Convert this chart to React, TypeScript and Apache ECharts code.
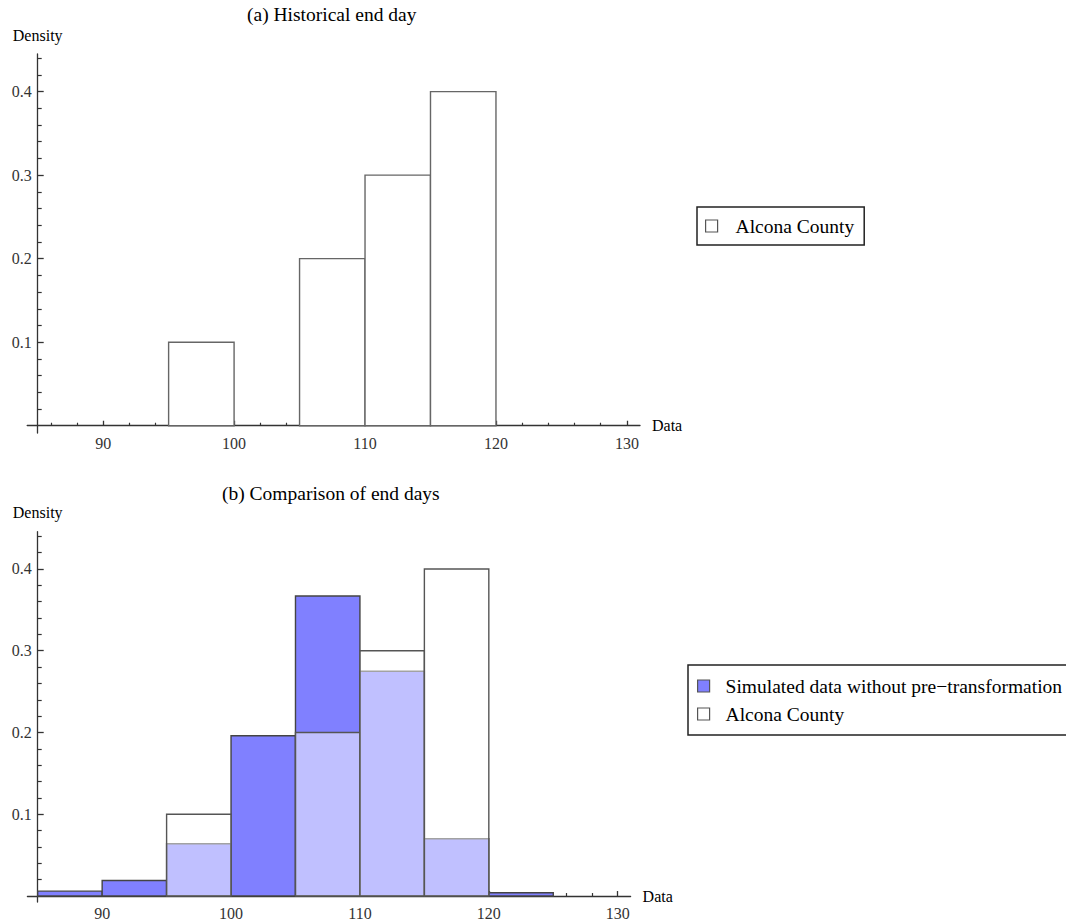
import React, { useEffect, useRef } from "react";
import * as echarts from "echarts";

// ---------- data ----------
const binWidth = 5;
const alconaBinStarts = [95, 105, 110, 115];
const alconaDensity = [0.1, 0.2, 0.3, 0.4];
const simBinStarts = [85, 90, 95, 100, 105, 110, 115, 120];
const simDensity = [0.006, 0.019, 0.064, 0.196, 0.367, 0.275, 0.07, 0.004];

const xMajorTicks = [90, 100, 110, 120, 130];
const xMinorTicks = [86, 88, 92, 94, 96, 98, 102, 104, 106, 108, 112, 114, 116, 118, 122, 124, 126, 128];
const yMajorTicks = [0.1, 0.2, 0.3, 0.4];
const yMinorTicks = [0.02, 0.04, 0.06, 0.08, 0.12, 0.14, 0.16, 0.18, 0.22, 0.24, 0.26, 0.28, 0.32, 0.34, 0.36, 0.38, 0.42, 0.44];

const titleA = "(a) Historical end day";
const titleB = "(b) Comparison of end days";
const nameAlcona = "Alcona County";
const nameSim = "Simulated data without pre\u2212transformation";

const FONT = '"Liberation Serif", "Times New Roman", serif';
const AXIS_COLOR = "#333";
const SIM_FILL = "#8080ff";
const BAR_STROKE = "#555";

function toRows(starts: number[], vals: number[]) {
  return starts.map((s, i) => [s, s + binWidth, vals[i]]);
}

function histSeries(name: string, grid: number, rows: number[][], fill: string, opacity: number, stroke: string) {
  return {
    type: "custom",
    name,
    xAxisIndex: grid * 2,
    yAxisIndex: grid * 2,
    data: rows,
    encode: { x: [0, 1], y: 2 },
    z: 2,
    renderItem: (params: any, api: any) => {
      const x0 = api.value(0);
      const x1 = api.value(1);
      const y = api.value(2);
      const p0 = api.coord([x0, y]);
      const p1 = api.coord([x1, 0]);
      return {
        type: "rect",
        shape: { x: p0[0], y: p0[1], width: p1[0] - p0[0], height: p1[1] - p0[1] },
        style: { fill: fill, opacity: 1, fillOpacity: opacity, stroke: stroke, lineWidth: 1.4 },
      };
    },
  };
}

function xAxes(grid: number, min: number, max: number, labelMargin: number) {
  const common = {
    type: "value",
    gridIndex: grid,
    min,
    max,
    position: "bottom",
    splitLine: { show: false },
  };
  return [
    {
      ...common,
      axisLine: { show: true, onZero: true, lineStyle: { color: AXIS_COLOR, width: 1.3 } },
      axisTick: { show: true, inside: true, length: 5, customValues: xMajorTicks, lineStyle: { color: AXIS_COLOR, width: 1.3 } },
      axisLabel: { show: true, customValues: xMajorTicks, margin: labelMargin, fontSize: 16, fontFamily: FONT, color: "#333" },
      name: "Data",
      nameLocation: "end",
      nameGap: 12,
      nameTextStyle: { fontSize: 16, fontFamily: FONT, color: "#000" },
    },
    {
      ...common,
      axisLine: { show: true, onZero: true, lineStyle: { color: AXIS_COLOR, opacity: 0 } },
      axisTick: { show: true, inside: true, length: 3, customValues: xMinorTicks, lineStyle: { color: AXIS_COLOR, width: 1.2 } },
      axisLabel: { show: false },
    },
  ];
}

function yAxes(grid: number, min: number, max: number, offset: number) {
  const common = {
    type: "value",
    gridIndex: grid,
    min,
    max,
    position: "left",
    offset,
    splitLine: { show: false },
  };
  return [
    {
      ...common,
      axisLine: { show: true, onZero: false, lineStyle: { color: AXIS_COLOR, width: 1.3 } },
      axisTick: { show: true, inside: true, length: 6, customValues: yMajorTicks, lineStyle: { color: AXIS_COLOR, width: 1.3 } },
      axisLabel: {
        show: true,
        customValues: yMajorTicks,
        margin: 6,
        fontSize: 16,
        fontFamily: FONT,
        color: "#333",
        formatter: (v: number) => v.toFixed(1),
      },
      name: "Density",
      nameLocation: "end",
      nameGap: 11,
      nameTextStyle: { fontSize: 16, fontFamily: FONT, color: "#000" },
    },
    {
      ...common,
      axisLine: { show: true, onZero: false, lineStyle: { color: AXIS_COLOR, opacity: 0 } },
      axisTick: { show: true, inside: true, length: 4, customValues: yMinorTicks, lineStyle: { color: AXIS_COLOR, width: 1.2 } },
      axisLabel: { show: false },
    },
  ];
}

export default function App() {
  const ref = useRef<HTMLDivElement>(null);
  useEffect(() => {
    if (!ref.current) return;
    const chart = echarts.init(ref.current, undefined, { renderer: "svg" });
    const legendText = { fontSize: 19.5, fontFamily: FONT, color: "#000" };
    const titleStyle = { fontSize: 19.5, fontWeight: "normal", fontFamily: FONT, color: "#000" };
    chart.setOption({
      animation: false,
      backgroundColor: "#fff",
      title: [
        { text: titleA, left: 247, top: 4, padding: 0, textStyle: titleStyle },
        { text: titleB, left: 222, top: 483, padding: 0, textStyle: titleStyle },
      ],
      grid: [
        { left: 27.2, right: 426, top: 54, height: 379 },
        { left: 27.4, right: 435.4, top: 531.7, height: 373.3 },
      ],
      xAxis: [...xAxes(0, 84.2, 131, 2), ...xAxes(1, 84.2, 131, 3)],
      yAxis: [...yAxes(0, -0.0087, 0.445, -10.5), ...yAxes(1, -0.0073, 0.4456, -10.3)],
      legend: [
        {
          left: 697,
          top: 207,
          orient: "vertical",
          selectedMode: false,
          padding: [9, 10, 9, 8],
          borderColor: "#222",
          borderWidth: 1.5,
          itemWidth: 12,
          itemHeight: 12,
          textStyle: { ...legendText, padding: [0, 0, 0, 13] },
          data: [{ name: nameAlcona, icon: "rect", itemStyle: { color: "#fff", borderColor: BAR_STROKE, borderWidth: 1.2 } }],
        },
        {
          left: 688,
          top: 665,
          orient: "vertical",
          selectedMode: false,
          padding: [11, 10, 11, 9],
          itemGap: 8,
          borderColor: "#222",
          borderWidth: 1.5,
          itemWidth: 12,
          itemHeight: 12,
          textStyle: { ...legendText, padding: [0, 0, 0, 11] },
          data: [
            { name: nameSim, icon: "rect", itemStyle: { color: SIM_FILL, borderColor: BAR_STROKE, borderWidth: 1.2 } },
            { name: nameAlcona, icon: "rect", itemStyle: { color: "#fff", borderColor: BAR_STROKE, borderWidth: 1.2 } },
          ],
        },
      ],
      series: [
        histSeries(nameAlcona, 0, toRows(alconaBinStarts, alconaDensity), "#fff", 1, "#666"),
        histSeries(nameSim, 1, toRows(simBinStarts, simDensity), SIM_FILL, 1, "#444"),
        histSeries(nameAlcona, 1, toRows(alconaBinStarts, alconaDensity), "#fff", 0.5, "#555"),
      ],
    });
    return () => chart.dispose();
  }, []);
  return (
    <div
      ref={ref}
      style={{ position: "absolute", left: 0, top: 0, width: 1066, height: 921, background: "#fff" }}
    />
  );
}
